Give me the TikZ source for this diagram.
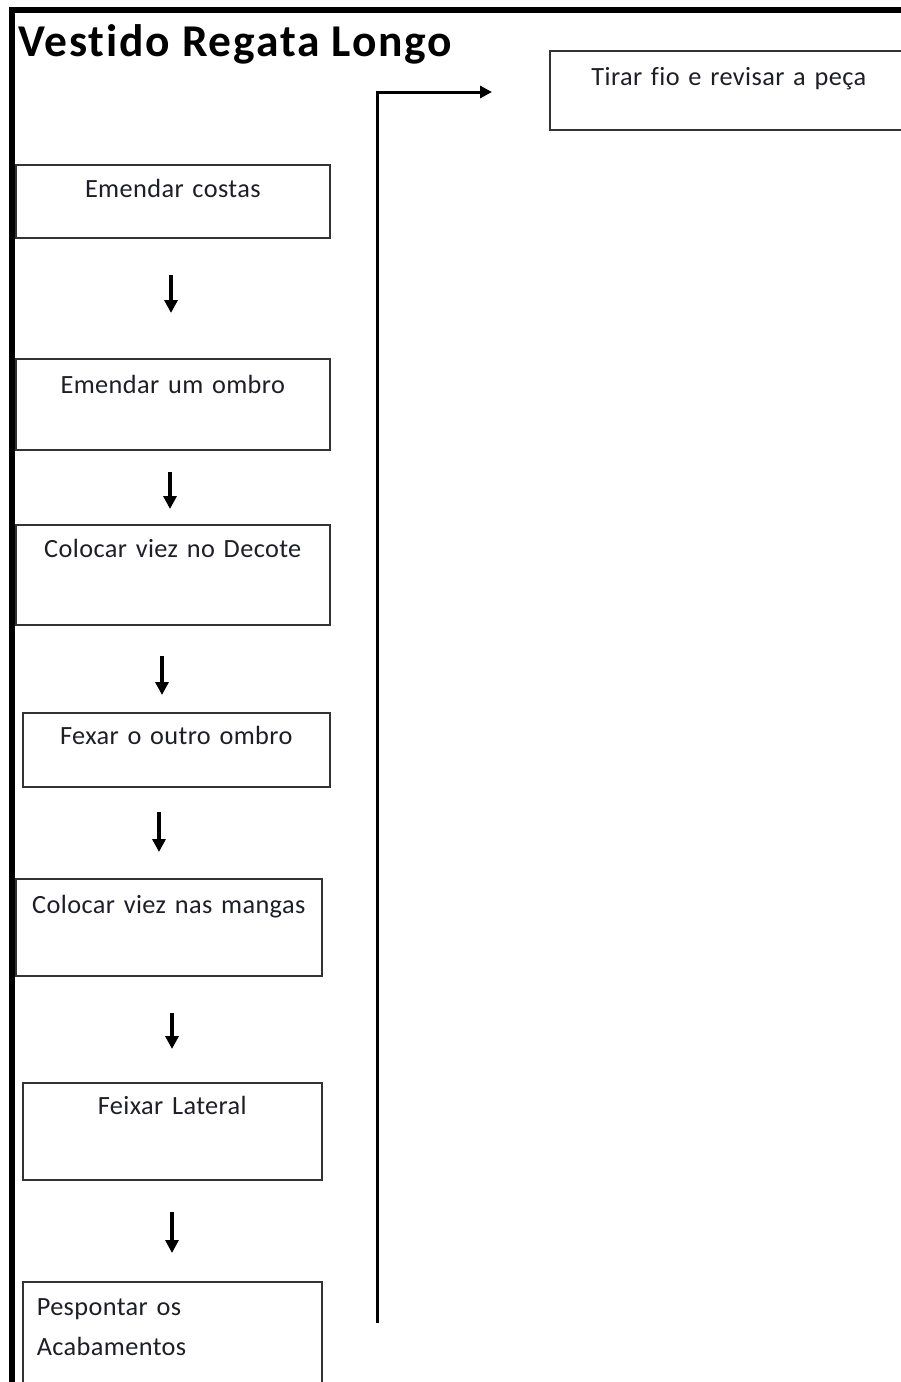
\documentclass[tikz,border=0pt]{standalone}
\usepackage{fontspec}
\setmainfont{Carlito}[LetterSpace=1.5, Ligatures={NoCommon}]
\newfontfamily\titlefont{Carlito}[LetterSpace=4, Ligatures={NoCommon}]
\usetikzlibrary{arrows.meta}
\definecolor{boxline}{HTML}{333333}
\definecolor{ink}{HTML}{1E1E28}
\tikzset{
  stepbox/.style={draw=boxline, line width=1.6pt, rectangle, inner xsep=0pt, inner ysep=0pt,
    anchor=north west, align=center, text=ink, font=\fontsize{26.3}{40}\selectfont},
  downarrow/.style={line width=3.5pt, -{Triangle[width=13pt,length=13pt]}},
  longarrow/.style={line width=3pt, line join=miter, -{Triangle[width=12pt,length=12pt]}},
  frameline/.style={line width=5.5pt, line join=miter},
}
\begin{document}
\begin{tikzpicture}[x=1pt,y=-1pt]
\useasboundingbox (0,0) rectangle (901,1382);
\clip (0,0) rectangle (901,1382);
\fill[white] (0,0) rectangle (901,1382);
% frame
\coordinate (fb) at (11.8,1395);
\coordinate (fc) at (11.8,9.75);
\coordinate (fr) at (915,9.75);
\draw[frameline] (fb) -- (fc) -- (fr);
% title
\node[anchor=base west, inner sep=0pt, font=\titlefont\fontsize{45.5}{50}\selectfont\bfseries] (title) at (18,56) {Vestido Regata Longo};
% boxes
\node[stepbox, text width=314pt, text height=33pt, text depth=40pt] (b1) at (15,164) {Emendar costas};
\node[stepbox, text width=314pt, text height=35pt, text depth=56pt] (b2) at (15,358) {Emendar um ombro};
\node[stepbox, text width=314pt, text height=33pt, text depth=67pt] (b3) at (15,524) {Colocar viez no Decote};
\node[stepbox, text width=307pt, text height=32pt, text depth=42pt] (b4) at (22,712) {Fexar o outro ombro};
\node[stepbox, text width=306pt, text height=35pt, text depth=62pt] (b5) at (15,878) {Colocar viez nas mangas};
\node[stepbox, text width=299pt, text height=32pt, text depth=65pt] (b6) at (22,1082) {Feixar Lateral};
\node[stepbox, align=left, inner xsep=14pt, text width=271pt, text height=34pt, text depth=110pt] (b7) at (22,1281) {Pespontar os\\Acabamentos};
\node[stepbox, text width=358pt, text height=35pt, text depth=44pt] (b8) at (549,50) {Tirar fio e revisar a peça};
% short arrows
\coordinate (a1s) at (171,275);  \coordinate (a1e) at (171,313);
\coordinate (a2s) at (170,472);  \coordinate (a2e) at (170,509);
\coordinate (a3s) at (162,656);  \coordinate (a3e) at (162,695);
\coordinate (a4s) at (159,812);  \coordinate (a4e) at (159,852);
\coordinate (a5s) at (172,1013); \coordinate (a5e) at (172,1049);
\coordinate (a6s) at (172,1212); \coordinate (a6e) at (172,1253);
\draw[downarrow] (a1s) -- (a1e);
\draw[downarrow] (a2s) -- (a2e);
\draw[downarrow] (a3s) -- (a3e);
\draw[downarrow] (a4s) -- (a4e);
\draw[downarrow] (a5s) -- (a5e);
\draw[downarrow] (a6s) -- (a6e);
% long connector
\coordinate (c0) at (377,1323);
\coordinate (c1) at (492,92);
\draw[longarrow] (c0) |- (c1);
\end{tikzpicture}
\end{document}
